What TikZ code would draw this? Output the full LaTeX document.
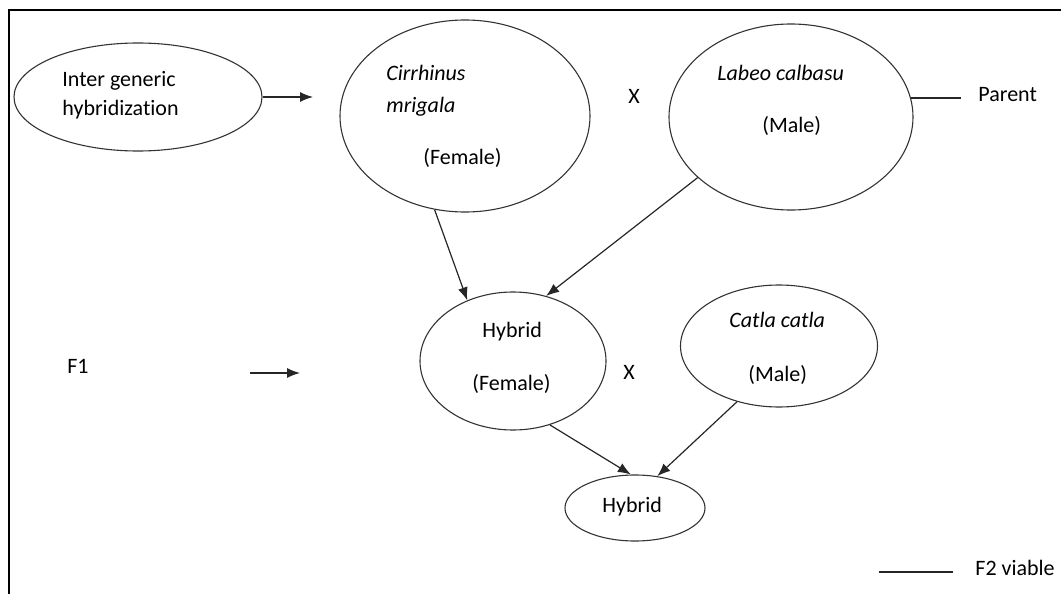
\documentclass[tikz,border=0pt]{standalone}
\usepackage{fontspec}
\setmainfont{Carlito}[Ligatures=CommonOff]
\usetikzlibrary{shapes.geometric,arrows.meta}
\begin{document}
\begin{tikzpicture}[x=0.5pt,y=-0.5pt,
  oval/.style={ellipse,draw=black!80,line width=0.55pt,inner sep=0pt},
  lbl/.style={anchor=base west,inner sep=0pt,font=\fontsize{11pt}{13pt}\selectfont},
  ilbl/.style={lbl,font=\fontsize{11pt}{13pt}\selectfont\itshape},
  conn/.style={draw=black!85,line width=0.6pt,-{Latex[length=6.5pt,width=5pt]}},
  plain/.style={draw=black!85,line width=0.6pt}]
\useasboundingbox (0,0) rectangle (1061,594);
% frame (top and left sides)
\draw[line width=1.1pt] (1061,10) -- (9,10) -- (9,594);

% ellipses
\node[oval,minimum width=124pt,minimum height=54pt] (ig) at (138,97) {};
\node[oval,minimum width=125pt,minimum height=96pt] (cm) at (465,116) {};
\node[oval,minimum width=122pt,minimum height=93pt] (lc) at (791,117) {};
\node[oval,minimum width=93pt,minimum height=69pt] (hf) at (513,361) {};
\node[oval,minimum width=98.5pt,minimum height=61pt] (cc) at (779,346) {};
\node[oval,minimum width=70pt,minimum height=33pt] (hb) at (635,508) {};

% texts
\node[lbl] (t1) at (62,86) {Inter generic};
\node[lbl] (t2) at (62,115) {hybridization};
\node[ilbl] (t3) at (386,80) {Cirrhinus};
\node[ilbl] (t4) at (386,112) {mrigala};
\node[lbl] (t5) at (423,164) {(Female)};
\node[lbl] (x1) at (628,103) {X};
\node[ilbl] (t6) at (717,80) {Labeo calbasu};
\node[lbl] (t7) at (762,132) {(Male)};
\node[lbl] (t8) at (978,101) {Parent};
\node[lbl] (t9) at (482,337) {Hybrid};
\node[lbl] (t10) at (472,390) {(Female)};
\node[lbl] (x2) at (623,379) {X};
\node[ilbl] (t11) at (729,327) {Catla catla};
\node[lbl] (t12) at (748,381) {(Male)};
\node[lbl] (t13) at (67,373) {F1};
\node[lbl] (t14) at (602,512) {Hybrid};
\node[lbl] (t15) at (975,575) {F2 viable};

% free ends of the side marks
\coordinate (igend) at (313,97);
\coordinate (parend) at (961,99);
\coordinate (f1a) at (250,373);
\coordinate (f1b) at (300,373);
\coordinate (f2a) at (879,572);
\coordinate (f2b) at (953,572);

% connectors
\draw[conn] (ig.east) -- (igend);
\draw[plain] (lc.9) -- (lc.9 -| parend);
\draw[conn] (f1a) -- (f1b);
\draw[plain] (f2a) -- (f2b);
\draw[conn] (cm.252) -- (hf.127);
\draw[conn] (lc.213) -- (hf.63);
\draw[conn] (hf.300) -- (hb.97);
\draw[conn] (cc.233) -- (hb.55);
\end{tikzpicture}
\end{document}
